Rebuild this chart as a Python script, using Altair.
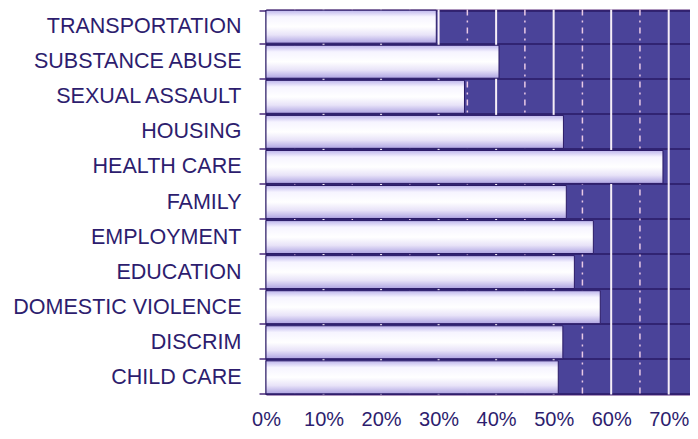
import altair as alt
import pandas as pd

categories = [
    "TRANSPORTATION", "SUBSTANCE ABUSE", "SEXUAL ASSAULT", "HOUSING",
    "HEALTH CARE", "FAMILY", "EMPLOYMENT", "EDUCATION",
    "DOMESTIC VIOLENCE", "DISCRIM", "CHILD CARE",
]
values = [0.296, 0.405, 0.345, 0.517, 0.690, 0.522, 0.569, 0.536, 0.581, 0.516, 0.508]
tick_values = [0.0, 0.1, 0.2, 0.3, 0.4, 0.5, 0.6, 0.7]
major_grid = [0.1, 0.2, 0.3, 0.4, 0.5, 0.6, 0.7]
minor_grid = [0.05, 0.15, 0.25, 0.35, 0.45, 0.55, 0.65]

df = pd.DataFrame({"category": categories, "value": values})
major_df = pd.DataFrame({"g": major_grid})
minor_df = pd.DataFrame({"g": minor_grid})

TEXT = "#2d1d6e"
DARK = "#2a1a66"
BG = "#4a4399"
FONT = "Liberation Sans"

xscale = alt.Scale(domain=[0, 0.737], nice=False, zero=True)
xaxis = alt.Axis(
    values=tick_values, format=".0%", title=None, grid=False,
    domain=False, ticks=False, labelFontSize=20, labelFont=FONT,
    labelColor=TEXT, labelPadding=15, labelFlush=False, labelOverlap=False,
)

major = alt.Chart(major_df).mark_rule(color="#f6eff8", strokeWidth=2).encode(
    x=alt.X("g:Q", scale=xscale, axis=xaxis)
)
minor = alt.Chart(minor_df).mark_rule(
    color="#e9c9e6", strokeWidth=1.5, strokeDash=[6, 5, 2, 5]
).encode(x=alt.X("g:Q", scale=xscale, axis=xaxis))

grad = alt.Gradient(
    gradient="linear",
    x1=0, y1=0, x2=0, y2=1,
    stops=[
        alt.GradientStop(color="#bdb5ec", offset=0),
        alt.GradientStop(color="#f6f4ff", offset=0.2),
        alt.GradientStop(color="#ffffff", offset=0.5),
        alt.GradientStop(color="#e8e3f8", offset=0.75),
        alt.GradientStop(color="#aea4e2", offset=1),
    ],
)

bars = alt.Chart(df).mark_bar(
    fill=grad, stroke=DARK, strokeWidth=1
).encode(
    x=alt.X("value:Q", scale=xscale, axis=xaxis),
    y=alt.Y(
        "category:N",
        sort=None,
        scale=alt.Scale(paddingInner=0.06, paddingOuter=0.02),
        axis=alt.Axis(
            title=None, labelFontSize=21.5, labelFont=FONT, labelColor=TEXT,
            labelPadding=18, labelLimit=400, tickSize=7, tickColor="#4a2a7a",
            tickWidth=1.5, tickBand="extent", domainColor=DARK, domainWidth=2,
            grid=True, gridColor=DARK, gridWidth=1.5,
        ),
    ),
)

chart = alt.layer(major, minor, bars).properties(
    width=424,
    height=385,
    autosize=alt.AutoSizeParams(type="none"),
    padding={"left": 258, "top": 1.5, "right": 0, "bottom": 36.5},
    view=alt.ViewBackground(fill=BG, stroke="#5a2a7a", strokeWidth=1),
).configure(background="white")

chart.save("out.html", embed_options={"renderer": "svg", "actions": False})
